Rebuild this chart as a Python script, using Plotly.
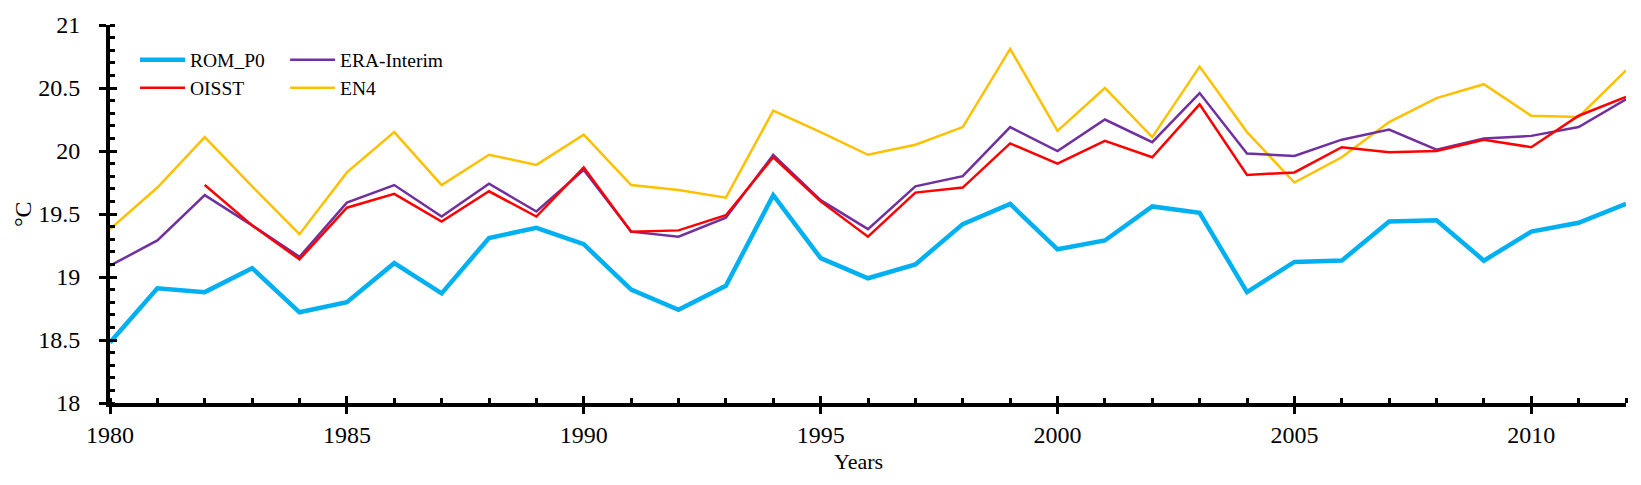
import plotly.graph_objects as go

years = list(range(1980, 2013))

rom_p0 = [18.48, 18.91, 18.88, 19.07, 18.72, 18.80, 19.11, 18.87, 19.31, 19.39,
          19.26, 18.90, 18.74, 18.93, 19.65, 19.15, 18.99, 19.10, 19.42, 19.58,
          19.22, 19.29, 19.56, 19.51, 18.88, 19.12, 19.13, 19.44, 19.45, 19.13,
          19.36, 19.43, 19.58]

oisst = [None, None, 19.73, 19.41, 19.14, 19.55, 19.66, 19.44, 19.68, 19.48,
         19.87, 19.36, 19.37, 19.49, 19.95, 19.60, 19.32, 19.67, 19.71, 20.06,
         19.90, 20.08, 19.95, 20.37, 19.81, 19.83, 20.03, 19.99, 20.00, 20.09,
         20.03, 20.28, 20.43]

era_interim = [19.09, 19.29, 19.65, 19.41, 19.16, 19.59, 19.73, 19.48, 19.74, 19.52,
               19.85, 19.36, 19.32, 19.47, 19.97, 19.61, 19.38, 19.72, 19.80, 20.19,
               20.00, 20.25, 20.07, 20.46, 19.98, 19.96, 20.09, 20.17, 20.01, 20.10,
               20.12, 20.19, 20.41]

en4 = [19.38, 19.71, 20.11, 19.72, 19.34, 19.83, 20.15, 19.73, 19.97, 19.89,
       20.13, 19.73, 19.69, 19.63, 20.32, 20.15, 19.97, 20.05, 20.19, 20.81,
       20.16, 20.50, 20.11, 20.67, 20.15, 19.75, 19.95, 20.23, 20.42, 20.53,
       20.28, 20.27, 20.64]

x_ticks = [1980, 1985, 1990, 1995, 2000, 2005, 2010]
y_ticks = [18, 18.5, 19, 19.5, 20, 20.5, 21]
y_tick_labels = ["18", "18.5", "19", "19.5", "20", "20.5", "21"]

x_title = "Years"
y_title = "°C"

FONT = "Liberation Serif, Times New Roman, serif"
TICK_SIZE = 24
LEG_SIZE = 19.5

fig = go.Figure()
fig.add_trace(go.Scatter(x=years, y=en4, name="EN4", mode="lines",
                         line=dict(color="#FFC000", width=2.5), legend="legend4"))
fig.add_trace(go.Scatter(x=years, y=era_interim, name="ERA-Interim", mode="lines",
                         line=dict(color="#7030A0", width=2.5), legend="legend3"))
fig.add_trace(go.Scatter(x=years, y=oisst, name="OISST", mode="lines",
                         line=dict(color="#FF0000", width=2.5), legend="legend2"))
fig.add_trace(go.Scatter(x=years, y=rom_p0, name="ROM_P0", mode="lines",
                         line=dict(color="#00B0F0", width=4.5), legend="legend"))
# invisible trace to activate secondary axes (for crossing major ticks)
fig.add_trace(go.Scatter(x=[years[0]], y=[y_ticks[0]], xaxis="x2", yaxis="y2",
                         mode="markers", marker=dict(opacity=0), showlegend=False,
                         hoverinfo="skip"))

common_legend = dict(font=dict(family=FONT, size=LEG_SIZE, color="black"),
                     bgcolor="rgba(0,0,0,0)", borderwidth=0,
                     xanchor="left", yanchor="middle", itemwidth=45)

fig.update_layout(
    width=1641, height=485,
    margin=dict(l=110, r=15, t=25, b=82),
    paper_bgcolor="white", plot_bgcolor="white",
    font=dict(family=FONT, size=TICK_SIZE, color="black"),
    showlegend=True,
    legend=dict(x=0.0165, y=0.907, **common_legend),
    legend2=dict(x=0.0165, y=0.833, **common_legend),
    legend3=dict(x=0.1155, y=0.907, **common_legend),
    legend4=dict(x=0.1155, y=0.833, **common_legend),
    xaxis=dict(
        range=[1980, 2012], tickmode="array", tickvals=x_ticks,
        ticks="outside", ticklen=7, tickwidth=3, tickcolor="black",
        showline=True, linewidth=4, linecolor="black",
        showgrid=False, zeroline=False,
        tickfont=dict(family=FONT, size=TICK_SIZE),
        minor=dict(dtick=1, tick0=1980, ticks="inside", ticklen=5, tickwidth=3,
                   tickcolor="black", showgrid=False),
    ),
    yaxis=dict(
        range=[18, 21], tickmode="array", tickvals=y_ticks, ticktext=y_tick_labels,
        ticks="outside", ticklen=7, tickwidth=3, tickcolor="black",
        showline=True, linewidth=4, linecolor="black",
        showgrid=False, zeroline=False,
        tickfont=dict(family=FONT, size=TICK_SIZE),
        ticklabelstandoff=14,
        minor=dict(dtick=0.1, tick0=18, ticks="inside", ticklen=5, tickwidth=3,
                   tickcolor="black", showgrid=False),
    ),
    xaxis2=dict(
        range=[1980, 2012], overlaying="x", anchor="y", side="bottom",
        tickmode="array", tickvals=x_ticks, ticks="inside", ticklen=7, tickwidth=3,
        tickcolor="black", showticklabels=False, showline=False,
        showgrid=False, zeroline=False,
    ),
    yaxis2=dict(
        range=[18, 21], overlaying="y", anchor="x", side="left",
        tickmode="array", tickvals=y_ticks, ticks="inside", ticklen=7, tickwidth=3,
        tickcolor="black", showticklabels=False, showline=False,
        showgrid=False, zeroline=False,
    ),
    annotations=[
        dict(text=x_title, xref="paper", yref="paper", x=0.494, y=-0.156,
             xanchor="center", yanchor="middle", showarrow=False,
             font=dict(family=FONT, size=22, color="black")),
        dict(text=y_title, xref="paper", yref="paper", x=-0.0574, y=0.5,
             xanchor="center", yanchor="middle", showarrow=False, textangle=-90,
             font=dict(family=FONT, size=24, color="black")),
    ],
)

fig.write_html("out.html",
               config={"displayModeBar": False},
               post_script="document.body.style.margin='0';"
                           "document.body.style.overflow='hidden';")
